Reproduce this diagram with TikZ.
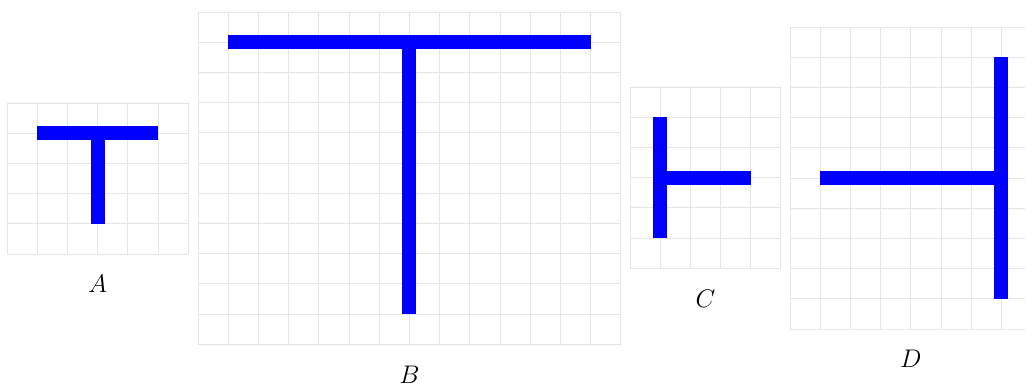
\documentclass[tikz,border=0pt]{standalone}
\begin{document}
\begin{tikzpicture}[x=0.5cm,y=0.5cm,
  gridline/.style={draw=gray!20, line width=0.45pt},
  bar/.style={draw=blue, line width=6.6pt, line cap=butt},
  lbl/.style={font=\large}]
\useasboundingbox (0,0) rectangle (33.94,-12.85);
% A
\begin{scope}[shift={(0.232,-8.41)}]
  \draw[gridline, step=0.5cm] (0,0) grid (6,5);
  \coordinate (a1) at (1,4); \coordinate (a2) at (5,4);
  \coordinate (a3) at (3,4); \coordinate (a4) at (3,1);
  \draw[bar] (a1) -- (a2);
  \draw[bar] (a3) -- (a4);
  \node[lbl] (labA) at (3,-1) {$A$};
\end{scope}
% B
\begin{scope}[shift={(6.556,-11.397)}]
  \draw[gridline, step=0.5cm] (0,0) grid (14,11);
  \coordinate (b1) at (1,10); \coordinate (b2) at (13,10);
  \coordinate (b3) at (7,10); \coordinate (b4) at (7,1);
  \draw[bar] (b1) -- (b2);
  \draw[bar] (b3) -- (b4);
  \node[lbl] (labB) at (7,-1) {$B$};
\end{scope}
% C
\begin{scope}[shift={(20.86,-8.88)}]
  \draw[gridline, step=0.5cm] (0,0) grid (5,6);
  \coordinate (c1) at (1,5); \coordinate (c2) at (1,1);
  \coordinate (c3) at (1,3); \coordinate (c4) at (4,3);
  \draw[bar] (c1) -- (c2);
  \draw[bar] (c3) -- (c4);
  \node[lbl] (labC) at (2.5,-1) {$C$};
\end{scope}
% D
\begin{scope}[shift={(26.16,-10.894)}]
  \draw[gridline, step=0.5cm] (0,0) grid (8,10);
  \coordinate (d1) at (7,9); \coordinate (d2) at (7,1);
  \coordinate (d3) at (1,5); \coordinate (d4) at (7,5);
  \draw[bar] (d1) -- (d2);
  \draw[bar] (d3) -- (d4);
  \node[lbl] (labD) at (4,-1) {$D$};
\end{scope}
\end{tikzpicture}
\end{document}
